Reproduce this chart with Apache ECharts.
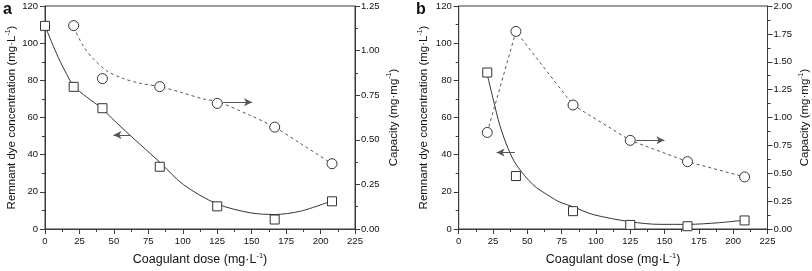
<!DOCTYPE html>
<html>
<head>
<meta charset="utf-8">
<script src="https://cdn.jsdelivr.net/npm/echarts@6/dist/echarts.min.js"></script>
<style>html,body{margin:0;padding:0;background:#fff}#c{width:812px;height:271px}</style>
</head>
<body>
<div id="c"></div>
<script>
// ---- Panel a ----
const doseA = [0, 20.8, 41.7, 83.3, 125, 166.7, 208.3];
const dyeA = [109.3, 76.5, 65.0, 33.5, 12.2, 5.1, 14.9];
const capDoseA = [20.8, 41.7, 83.3, 125, 166.7, 208.3];
const capA = [1.14, 0.843, 0.798, 0.704, 0.571, 0.366];
// fitted curves
const fitDyeXA = [0, 1.2, 6.1, 10.9, 15.8, 20.6, 30.3, 41.2, 48.5, 61.8, 76.4, 83.3, 100.6, 124.9, 149.1, 166.6, 185.5, 208.5];
const fitDyeYA = [109.5, 107.2, 98.3, 90.3, 83.2, 77.0, 71.0, 65.0, 59.6, 50.4, 40.6, 36.0, 23.8, 13.5, 8.7, 7.8, 9.6, 15.2];
const fitCapXA = [20.8, 27.9, 35.1, 44.9, 57, 68.9, 83.3, 100, 115.2, 125, 149.1, 166.6, 185.5, 208.3];
const fitCapYA = [1.13, 1.024, 0.954, 0.886, 0.843, 0.817, 0.798, 0.763, 0.728, 0.715, 0.636, 0.571, 0.479, 0.366];
// ---- Panel b ----
const doseB = [20.8, 41.7, 83.3, 125, 166.7, 208.3];
const dyeB = [84.2, 28.5, 9.6, 2.2, 1.5, 4.6];
const capB = [0.866, 1.772, 1.112, 0.795, 0.604, 0.467];
const fitDyeXB = [20.8, 25.1, 30, 36, 42.1, 54.2, 66.3, 73.6, 83.3, 97.8, 125, 146.3, 166.8, 189.9, 208.3];
const fitDyeYB = [83.2, 69.9, 55.7, 43.3, 34.4, 23.8, 17.6, 14.5, 12.0, 7.8, 3.9, 2.5, 2.5, 3.4, 4.8];
// arrows: [xStart, xEnd, y]
const arrowLeftA = [61.8, 49.7, 50.6];
const arrowRightA = [129.3, 150.3, 0.710];
const arrowLeftB = [40.9, 27.6, 41.2];
const arrowRightB = [129.3, 149.9, 0.795];
// tick definitions
const xMax = 225, xStep = 25;
const leftMax = 120, leftStep = 20;
const rightMaxA = 1.25, rightMaxB = 2.0, rightStep = 0.25;

const zip = (xs, ys) => xs.map((x, i) => [x, ys[i]]);
const FONT = "'Liberation Sans', Arial, sans-serif";
const AX = '#3a3a3a';
const labelStyle = {color: '#111', fontSize: 9.5, fontFamily: FONT};
function rich(size) {
  return {
    a: {fontSize: size, fontFamily: FONT, color: '#111', lineHeight: 15},
    s: {fontSize: size * 0.6, fontFamily: FONT, color: '#111', verticalAlign: 'top', lineHeight: 15, padding: [0, 0, 6, 0]}
  };
}
const grids = [
  {left: 45, top: 6, width: 310, height: 225.3},
  {left: 458.7, top: 6, width: 309.6, height: 225.3}
];

function xAx(gi) {
  return {
    type: 'value', gridIndex: gi, min: 0, max: xMax, interval: xStep, position: 'bottom',
    axisLine: {show: true, onZero: false, lineStyle: {color: AX, width: 1}},
    axisTick: {show: true, length: 5, lineStyle: {color: AX}},
    minorTick: {show: true, splitNumber: 2, length: 3, lineStyle: {color: AX}},
    splitLine: {show: false},
    axisLabel: Object.assign({margin: 7}, labelStyle),
    name: '{a|Coagulant dose (mg·L}{s|-1}{a|)}', nameLocation: 'middle', nameGap: 23,
    nameTextStyle: {rich: rich(12.5)}
  };
}
function yLeft(gi, gap) {
  return {
    type: 'value', gridIndex: gi, min: 0, max: leftMax, interval: leftStep, position: 'left',
    axisLine: {show: true, onZero: false, lineStyle: {color: AX, width: 1}},
    axisTick: {show: true, length: 5, lineStyle: {color: AX}},
    minorTick: {show: true, splitNumber: 2, length: 3, lineStyle: {color: AX}},
    splitLine: {show: false},
    axisLabel: Object.assign({margin: 7}, labelStyle),
    name: '{a|Remnant dye concentration (mg·L}{s|-1}{a|)}', nameLocation: 'middle', nameGap: gap, nameRotate: 90,
    nameTextStyle: {rich: rich(11.5)}
  };
}
function yRight(gi, max, gap) {
  return {
    type: 'value', gridIndex: gi, min: 0, max: max, interval: rightStep, position: 'right',
    axisLine: {show: true, onZero: false, lineStyle: {color: AX, width: 1}},
    axisTick: {show: true, length: 5, lineStyle: {color: AX}},
    minorTick: {show: true, splitNumber: 2, length: 3, lineStyle: {color: AX}},
    splitLine: {show: false},
    axisLabel: Object.assign({margin: 6, formatter: v => v.toFixed(2)}, labelStyle),
    name: '{a|Capacity (mg·mg}{s|-1}{a|)}', nameLocation: 'middle', nameGap: gap, nameRotate: 90,
    nameTextStyle: {rich: rich(11.5)}
  };
}
function arrow(a) {
  return {
    silent: true, symbol: ['none', 'arrow'], symbolSize: [6, 8],
    lineStyle: {color: '#555', width: 1, type: 'solid'}, label: {show: false},
    data: [[{coord: [a[0], a[2]]}, {coord: [a[1], a[2]]}]], animation: false
  };
}
function fitLine(xi, yi, data, dashed, mark) {
  const s = {
    type: 'line', xAxisIndex: xi, yAxisIndex: yi, data: data, symbol: 'none', smooth: dashed === 'poly' ? false : 0.3,
    lineStyle: {color: dashed ? '#555' : '#333', width: 1, type: dashed ? [3, 3] : 'solid'}, z: 2, animation: false
  };
  if (mark) s.markLine = arrow(mark);
  return s;
}
function pts(xi, yi, data, sym, size) {
  return {
    type: 'scatter', xAxisIndex: xi, yAxisIndex: yi, data: data, symbol: sym, symbolSize: size,
    itemStyle: {color: '#fff', borderColor: '#333', borderWidth: 1, opacity: 1}, z: 5, animation: false
  };
}

const chart = echarts.init(document.getElementById('c'), null, {renderer: 'canvas'});
chart.setOption({
  animation: false,
  grid: grids.map(g => Object.assign({show: true, borderColor: AX, borderWidth: 1, backgroundColor: 'transparent'}, g)),
  xAxis: [xAx(0), xAx(1)],
  yAxis: [yLeft(0, 24), yRight(0, rightMaxA, 31), yLeft(1, 27), yRight(1, rightMaxB, 30)],
  graphic: [
    {type: 'text', left: 3, top: 2, style: {text: 'a', font: "bold 16px " + FONT, fill: '#111'}},
    {type: 'text', left: 416, top: 2, style: {text: 'b', font: "bold 16px " + FONT, fill: '#111'}}
  ],
  series: [
    fitLine(0, 0, zip(fitDyeXA, fitDyeYA), false, arrowLeftA),
    fitLine(0, 1, zip(fitCapXA, fitCapYA), true, arrowRightA),
    pts(0, 0, zip(doseA, dyeA), 'rect', 9),
    pts(0, 1, zip(capDoseA, capA), 'circle', 10),
    fitLine(1, 2, zip(fitDyeXB, fitDyeYB), false, arrowLeftB),
    fitLine(1, 3, zip(doseB, capB), 'poly', arrowRightB),
    pts(1, 2, zip(doseB, dyeB), 'rect', 9),
    pts(1, 3, zip(doseB, capB), 'circle', 10)
  ]
});
</script>
</body>
</html>
